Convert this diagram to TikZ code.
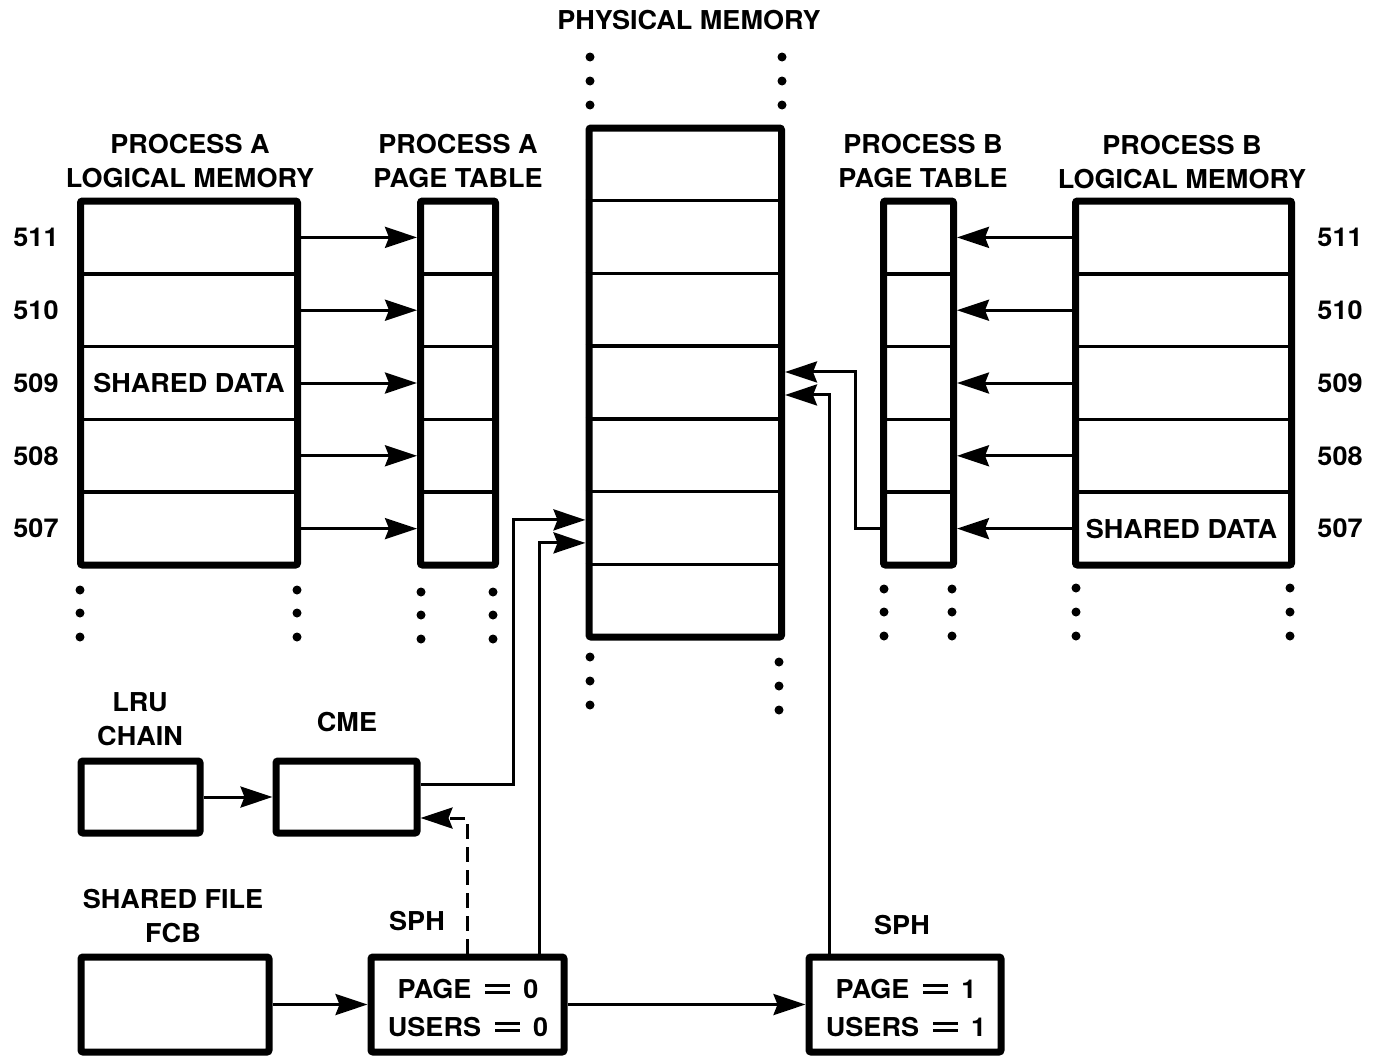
\documentclass[tikz,border=0pt]{standalone}
\usepackage{fontspec}
\setmainfont{TeX Gyre Heros}[FakeStretch=1.04]
\usetikzlibrary{arrows.meta,calc}
% wide, thin equals sign used in the SPH boxes
\newcommand\sphEq{\hspace{14pt}\rlap{\raisebox{11pt}{\rule{25pt}{3pt}}}\raisebox{4pt}{\rule{25pt}{3pt}}\hspace{13pt}}

\begin{document}
\begin{tikzpicture}[x=1pt,y=-1pt,
  font=\fontsize{26}{34}\selectfont\bfseries,
  frame/.style={draw, line width=7pt, rounded corners=2pt, inner sep=0pt},
  cell/.style={inner sep=0pt, outer sep=0pt},
  divider/.style={line width=3.5pt},
  conn/.style={line width=3pt},
  arr/.style={conn, -{Stealth[length=32pt,width=21pt,inset=4pt]}},
  txt/.style={inner sep=0pt, align=center},
  dot/.style={fill=black},
  ]
\fill[white] (0,0) rectangle (1381,1055);
\useasboundingbox (0,0) rectangle (1381,1055);

% ---------- headings ----------
\node[txt] (hpm) at (689,20) {PHYSICAL MEMORY};
\node[txt] (hla) at (190,161) {PROCESS A\\LOGICAL MEMORY};
\node[txt] (hpa) at (458,161) {PROCESS A\\PAGE TABLE};
\node[txt] (hpb) at (923,161) {PROCESS B\\PAGE TABLE};
\node[txt] (hlb) at (1182,162) {PROCESS B\\LOGICAL MEMORY};

% ---------- row cells of the five-row tables ----------
\foreach \i in {1,...,5} {
  \node[cell, minimum width=224pt, minimum height=72.8pt] (la\i) at (189, {201+72.8*(\i-0.5)}) {};
  \node[cell, minimum width=82pt,  minimum height=72.8pt] (pa\i) at (458, {201+72.8*(\i-0.5)}) {};
  \node[cell, minimum width=77pt,  minimum height=72.8pt] (pb\i) at (918.5, {201+72.8*(\i-0.5)}) {};
  \node[cell, minimum width=223pt, minimum height=72.8pt] (lb\i) at (1183.5, {201+72.8*(\i-0.5)}) {};
}
% physical memory frames
\foreach \i in {1,...,7} {
  \node[cell, minimum width=199.5pt, minimum height=72.71pt] (pm\i) at (685.25, {128+72.71*(\i-0.5)}) {};
}

% row dividers
\foreach \i in {1,...,4} {
  \draw[divider] (la\i.south west) -- (la\i.south east);
  \draw[divider] (pa\i.south west) -- (pa\i.south east);
  \draw[divider] (pb\i.south west) -- (pb\i.south east);
  \draw[divider] (lb\i.south west) -- (lb\i.south east);
}
\foreach \i in {1,...,6} {
  \draw[divider] (pm\i.south west) -- (pm\i.south east);
}

% outer frames
\node[frame, minimum width=217pt, minimum height=364pt] (lma) at (189,383) {};
\node[frame, minimum width=75pt,  minimum height=364pt] (pta) at (458,383) {};
\node[frame, minimum width=192.5pt, minimum height=509pt] (pmem) at (685.25,382.5) {};
\node[frame, minimum width=70pt,  minimum height=364pt] (ptb) at (918.5,383) {};
\node[frame, minimum width=216pt, minimum height=364pt] (lmb) at (1183.5,383) {};

\node[txt] (sda) at (la3) {SHARED DATA};
\node[txt] (sdb) at ([xshift=-2pt]lb5.center) {SHARED DATA};

% page numbers
\foreach \i/\n in {1/511,2/510,3/509,4/508,5/507} {
  \node[txt] (numa\n) at (36, {201+72.8*(\i-0.5)}) {\n};
  \node[txt] (numb\n) at (1340, {201+72.8*(\i-0.5)}) {\n};
}

% logical pages -> page table entries
\foreach \i in {1,...,5} {
  \draw[arr] (la\i.east) -- (pa\i.west);
  \draw[arr] (lb\i.west) -- (pb\i.east);
}

% continuation dots
\foreach \x in {590,782} \foreach \y in {57,81,105} \fill[dot] (\x,\y) circle (4.5pt);
\foreach \y in {657,681,705} \fill[dot] (590,\y) circle (4.5pt);
\foreach \y in {662,686,710} \fill[dot] (779,\y) circle (4.5pt);
\foreach \x in {80,297} \foreach \y in {590,613,637} \fill[dot] (\x,\y) circle (4.5pt);
\foreach \x in {421,493} \foreach \y in {592,615,639} \fill[dot] (\x,\y) circle (4.5pt);
\foreach \x in {884,952} \foreach \y in {589,612,636} \fill[dot] (\x,\y) circle (4.5pt);
\foreach \x in {1076,1290} \foreach \y in {588,612,636} \fill[dot] (\x,\y) circle (4.5pt);

% ---------- lower structures ----------
\node[txt] (hlru) at (140,719) {LRU\\CHAIN};
\node[txt] (hcme) at (347,722) {CME};
\node[txt] (hfcb) at (173,916) {SHARED FILE\\FCB};
\node[txt] (hsph0) at (417,921) {SPH};
\node[txt] (hsph1) at (902,925) {SPH};

\node[frame, minimum width=119pt, minimum height=72pt] (lru) at (140.5,797) {};
\node[frame, minimum width=141pt, minimum height=72pt] (cme) at (346.5,797) {};
\node[frame, minimum width=188pt, minimum height=95pt] (fcb) at (175,1004.5) {};
\node[frame, minimum width=193pt, minimum height=95pt] (sph0) at (467.5,1004.5) {};
\node[frame, minimum width=192pt, minimum height=95pt] (sph1) at (905,1004.5) {};
\node[txt, font=\fontsize{26}{38}\selectfont\bfseries] (sph0t) at (468,1008)
  {PAGE\sphEq 0\\USERS\sphEq 0};
\node[txt, font=\fontsize{26}{38}\selectfont\bfseries] (sph1t) at (906,1008)
  {PAGE\sphEq 1\\USERS\sphEq 1};

% ---------- connectors ----------
\draw[arr] (lru) -- (cme);
\draw[arr] (fcb) -- (sph0);
\draw[arr] (sph0) -- (sph1);
\draw[arr] ([yshift=13pt]cme.east) -- ++(93,0) |- ([yshift=8pt]pm6.west);
\draw[arr] ([xshift=71.5pt]sph0.north) |- ([yshift=-15pt]pm6.west);
\draw[arr, dash pattern=on 15pt off 8pt] (sph0.north) |- ([yshift=-21pt]cme.east);
\draw[arr] (pb5.west) -- ++(-25,0) |- ([yshift=10.5pt]pm4.east);
\draw[arr] ([xshift=-76pt]sph1.north) |- ([yshift=-12.5pt]pm4.east);
\end{tikzpicture}
\end{document}
